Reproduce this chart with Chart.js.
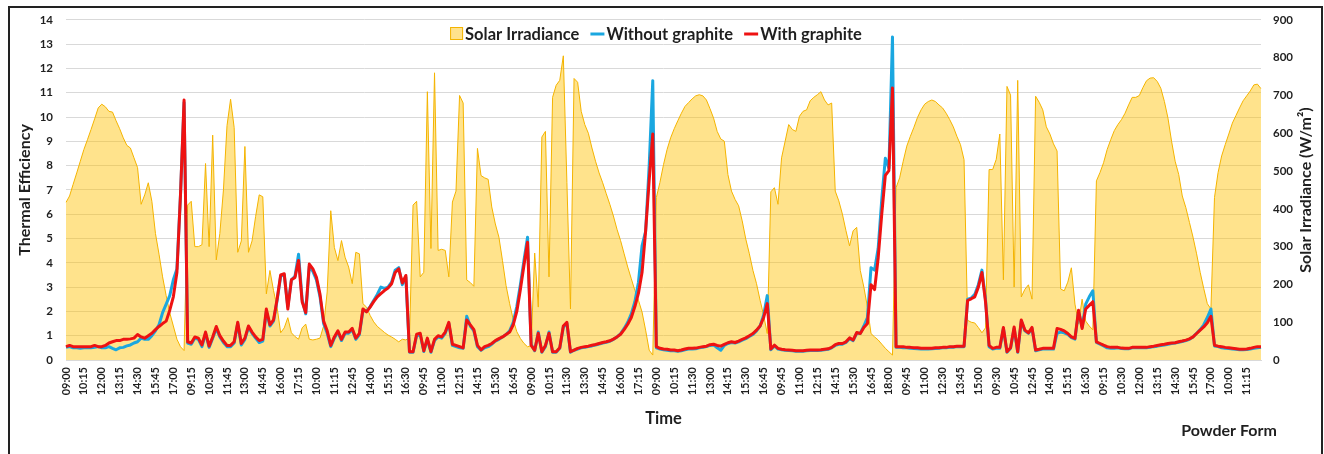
<!DOCTYPE html>
<html>
<head>
<meta charset="utf-8">
<script src="https://cdn.jsdelivr.net/npm/chart.js@4.4.0/dist/chart.umd.min.js"></script>
<style>
  html, body { margin: 0; padding: 0; background: #fff; overflow: hidden; }
  #wrap { position: relative; width: 1324px; height: 454px; }
  #frame { position: absolute; left: 8px; top: 6px; width: 1315px; height: 480px; border: 2px solid #222; box-sizing: border-box; pointer-events: none; }
</style>
</head>
<body>
<div id="wrap">
  <canvas id="chart" width="1324" height="454"></canvas>
  <div id="frame"></div>
</div>
<script>
// tick labels shown on the time axis (one every 5 readings)
const timeTicks = [
  '09:00','10:15','12:00','13:15','14:30','15:45','17:00','09:15','10:30','11:45',
  '13:00','14:45','16:00','17:15','10:00','11:15','12:45','14:00','15:15','16:30',
  '09:45','11:00','12:15','14:15','15:30','16:45','09:00','10:15','11:30','13:30',
  '14:45','16:00','17:15','09:00','10:15','11:30','13:00','14:15','15:30','16:45',
  '09:45','11:00','12:15','14:15','15:30','16:45','18:00','09:45','11:00','12:30',
  '13:45','15:00','09:30','10:45','12:45','14:00','15:15','16:30','09:15','10:30',
  '12:00','13:15','14:30','15:45','17:00','10:00','11:15'
];

// Solar irradiance, W/m2 (right axis)
const solarIrradiance = [
  417, 434, 465, 495, 526, 557, 583, 610, 638, 667,
  677, 670, 658, 656, 633, 612, 588, 568, 561, 535,
  509, 412, 437, 469, 420, 335, 280, 220, 170, 125,
  90, 55, 35, 25, 410, 420, 300, 300, 305, 520,
  300, 595, 265, 335, 450, 620, 690, 615, 285, 315,
  565, 285, 315, 380, 437, 432, 175, 237, 184, 140,
  72, 85, 112, 72, 62, 55, 85, 95, 55, 53,
  55, 58, 90, 180, 395, 298, 263, 316, 272, 246,
  202, 285, 281, 149, 140, 118, 101, 89, 81, 73,
  66, 61, 55, 48, 55, 53, 60, 410, 420, 220,
  232, 710, 295, 760, 290, 293, 290, 220, 418, 447,
  700, 680, 212, 205, 195, 560, 488, 482, 478, 405,
  360, 325, 263, 197, 149, 107, 75, 57, 44, 35,
  38, 283, 140, 590, 605, 220, 695, 727, 740, 805,
  470, 135, 745, 735, 658, 623, 600, 561, 526, 495,
  469, 440, 412, 381, 346, 316, 281, 246, 215, 184,
  158, 127, 79, 26, 13, 430, 470, 517, 557, 588,
  612, 633, 653, 671, 681, 691, 699, 702, 699, 688,
  665, 640, 605, 585, 579, 491, 447, 425, 408, 368,
  320, 281, 237, 202, 158, 118, 70, 445, 456, 412,
  535, 579, 623, 610, 605, 645, 658, 662, 686, 695,
  702, 710, 688, 675, 680, 447, 421, 386, 342, 302,
  342, 351, 237, 193, 140, 70, 61, 53, 42, 31,
  22, 13, 456, 482, 526, 566, 592, 616, 642, 662,
  677, 684, 688, 684, 675, 667, 653, 636, 617, 592,
  570, 530, 105, 100, 98, 86, 72, 85, 504, 504,
  531, 598, 212, 724, 701, 193, 740, 167, 187, 199,
  161, 698, 682, 662, 617, 598, 572, 553, 188, 183,
  206, 244, 148, 96, 161, 103, 90, 80, 474, 496,
  522, 557, 583, 607, 623, 636, 653, 675, 695, 695,
  700, 721, 739, 746, 747, 737, 719, 684, 640, 579,
  526, 491, 434, 403, 364, 325, 281, 232, 189, 149,
  135, 430, 496, 540, 570, 598, 627, 647, 667, 686,
  699, 712, 728, 730, 718
];

// Thermal efficiency without graphite (left axis)
const withoutGraphite = [
  0.52, 0.55, 0.5, 0.5, 0.48, 0.5, 0.5, 0.5, 0.52, 0.55,
  0.5, 0.5, 0.55, 0.48, 0.42, 0.5, 0.52, 0.58, 0.62, 0.7,
  0.75, 0.9, 0.85, 0.85, 1.0, 1.2, 1.45, 1.95, 2.3, 2.65,
  3.3, 3.75, 6.8, 10.6, 0.7, 0.65, 0.9, 0.85, 0.55, 1.1,
  0.52, 0.9, 1.3, 0.95, 0.72, 0.55, 0.55, 0.7, 1.5, 0.62,
  0.85, 1.35, 1.1, 0.9, 0.72, 0.78, 2.0, 1.4, 1.6, 2.45,
  3.45, 3.5, 2.2, 3.3, 3.45, 4.35, 2.5, 1.9, 3.85, 3.65,
  3.3, 2.6, 1.5, 1.1, 0.55, 0.9, 1.15, 0.8, 1.1, 1.1,
  1.25, 0.85, 1.05, 2.05, 2.0, 2.2, 2.45, 2.7, 3.0, 2.95,
  3.0, 3.2, 3.7, 3.8, 3.1, 3.4, 0.32, 0.32, 1.0, 1.05,
  0.35, 0.85, 0.32, 0.8, 0.95, 0.9, 1.1, 1.5, 0.6, 0.55,
  0.5, 0.48, 1.8, 1.4, 1.2, 0.55, 0.4, 0.5, 0.55, 0.65,
  0.78, 0.85, 0.95, 1.05, 1.2, 1.55, 2.2, 3.1, 4.1, 5.05,
  0.65, 0.38, 1.15, 0.32, 0.55, 1.15, 0.32, 0.32, 0.48, 1.35,
  1.5, 0.32, 0.4, 0.45, 0.5, 0.52, 0.55, 0.58, 0.62, 0.66,
  0.7, 0.73, 0.77, 0.85, 0.95, 1.08, 1.3, 1.55, 1.9, 2.4,
  3.2, 4.7, 5.3, 8.0, 11.5, 0.5, 0.45, 0.42, 0.4, 0.38,
  0.38, 0.36, 0.38, 0.42, 0.45, 0.45, 0.46, 0.5, 0.52, 0.55,
  0.6, 0.62, 0.5, 0.4, 0.6, 0.68, 0.72, 0.7, 0.75, 0.82,
  0.88, 0.97, 1.05, 1.2, 1.4, 1.85, 2.65, 0.42, 0.58, 0.45,
  0.42, 0.4, 0.39, 0.38, 0.36, 0.36, 0.36, 0.38, 0.39, 0.39,
  0.39, 0.4, 0.42, 0.44, 0.5, 0.6, 0.65, 0.65, 0.72, 0.88,
  0.8, 1.1, 1.1, 1.4, 1.75, 3.8, 3.7, 4.6, 6.6, 8.3,
  7.9, 13.3, 0.52, 0.52, 0.5, 0.5, 0.48, 0.47, 0.46, 0.45,
  0.45, 0.45, 0.46, 0.47, 0.48, 0.5, 0.5, 0.52, 0.52, 0.55,
  0.55, 0.55, 2.5, 2.55, 2.7, 3.1, 3.7, 2.5, 0.55, 0.45,
  0.48, 0.48, 1.3, 0.32, 0.48, 1.3, 0.32, 1.6, 1.2, 1.1,
  1.3, 0.38, 0.42, 0.45, 0.45, 0.45, 0.45, 1.1, 1.15, 1.12,
  1.05, 0.92, 0.86, 2.0, 1.35, 2.3, 2.6, 2.85, 0.72, 0.65,
  0.58, 0.5, 0.48, 0.48, 0.5, 0.47, 0.46, 0.46, 0.5, 0.5,
  0.5, 0.5, 0.5, 0.52, 0.55, 0.57, 0.6, 0.62, 0.65, 0.68,
  0.7, 0.73, 0.76, 0.8, 0.85, 0.95, 1.1, 1.25, 1.45, 1.75,
  2.1, 0.58, 0.55, 0.5, 0.48, 0.47, 0.45, 0.44, 0.42, 0.42,
  0.43, 0.45, 0.48, 0.5, 0.52
];

// Thermal efficiency with graphite (left axis)
const withGraphite = [
  0.55, 0.6, 0.55, 0.55, 0.55, 0.55, 0.55, 0.55, 0.6, 0.55,
  0.55, 0.6, 0.7, 0.75, 0.8, 0.8, 0.85, 0.85, 0.87, 0.9,
  1.05, 0.95, 0.9, 1.0, 1.1, 1.25, 1.38, 1.5, 1.6, 2.05,
  2.6, 3.6, 6.8, 10.7, 0.75, 0.7, 0.95, 0.9, 0.62, 1.15,
  0.57, 0.95, 1.38, 1.0, 0.78, 0.6, 0.6, 0.75, 1.55, 0.68,
  0.9, 1.4, 1.15, 0.95, 0.8, 0.85, 2.1, 1.45, 1.65, 2.5,
  3.5, 3.55, 2.1, 3.3, 3.4, 4.1, 2.4, 1.95, 3.95, 3.75,
  3.4, 2.7, 1.6, 1.2, 0.6, 0.95, 1.2, 0.85, 1.15, 1.15,
  1.3, 0.9, 1.1, 2.1, 1.98, 2.18, 2.4, 2.6, 2.73, 2.86,
  2.96, 3.14, 3.6, 3.75, 3.17, 3.48, 0.34, 0.34, 1.06, 1.1,
  0.38, 0.9, 0.35, 0.85, 1.0, 0.95, 1.15, 1.55, 0.65, 0.6,
  0.55, 0.5, 1.65, 1.45, 1.25, 0.6, 0.42, 0.55, 0.6, 0.68,
  0.8, 0.88, 0.95, 1.05, 1.15, 1.45, 2.0, 2.9, 3.9, 4.85,
  0.6, 0.4, 1.1, 0.34, 0.6, 1.1, 0.34, 0.34, 0.5, 1.4,
  1.55, 0.34, 0.41, 0.48, 0.52, 0.55, 0.57, 0.61, 0.64, 0.68,
  0.72, 0.75, 0.79, 0.86, 0.95, 1.06, 1.25, 1.47, 1.75, 2.2,
  2.75, 3.6, 5.3, 7.4, 9.3, 0.55, 0.48, 0.45, 0.44, 0.41,
  0.41, 0.38, 0.41, 0.45, 0.48, 0.48, 0.49, 0.52, 0.55, 0.57,
  0.63, 0.65, 0.6, 0.57, 0.64, 0.71, 0.75, 0.72, 0.78, 0.85,
  0.91, 1.0, 1.09, 1.23, 1.4, 1.75, 2.32, 0.45, 0.61, 0.48,
  0.44, 0.42, 0.41, 0.4, 0.38, 0.38, 0.38, 0.4, 0.41, 0.41,
  0.41, 0.42, 0.44, 0.46, 0.52, 0.63, 0.68, 0.68, 0.75, 0.91,
  0.82, 1.13, 1.09, 1.34, 1.5, 3.1, 2.9, 4.2, 6.0, 7.6,
  7.8, 11.2, 0.55, 0.55, 0.55, 0.52, 0.52, 0.5, 0.5, 0.48,
  0.48, 0.48, 0.48, 0.5, 0.5, 0.52, 0.52, 0.55, 0.55, 0.57,
  0.57, 0.57, 2.45, 2.52, 2.6, 3.0, 3.6, 2.4, 0.6, 0.48,
  0.52, 0.52, 1.34, 0.34, 0.5, 1.36, 0.34, 1.65, 1.23, 1.12,
  1.34, 0.41, 0.44, 0.48, 0.48, 0.48, 0.48, 1.3, 1.26, 1.2,
  1.09, 0.95, 0.89, 2.05, 1.3, 2.1, 2.25, 2.4, 0.75, 0.68,
  0.61, 0.55, 0.52, 0.52, 0.52, 0.49, 0.48, 0.48, 0.52, 0.52,
  0.52, 0.52, 0.52, 0.55, 0.57, 0.6, 0.63, 0.65, 0.68, 0.7,
  0.71, 0.75, 0.78, 0.82, 0.87, 0.95, 1.09, 1.23, 1.36, 1.53,
  1.8, 0.61, 0.57, 0.55, 0.52, 0.5, 0.48, 0.46, 0.44, 0.44,
  0.45, 0.48, 0.52, 0.55, 0.55
];

const FONT = 'Lato, "Noto Sans", sans-serif';
const TEXT = '#1f1f1f';

// every 5th reading carries a visible time label
const labels = solarIrradiance.map((_, i) => (i % 5 === 0 ? timeTicks[i / 5] : ''));

// legend, right axis title and the "Powder Form" note are drawn on top
const overlayText = {
  id: 'overlayText',
  afterDraw(chart) {
    const c = chart.ctx;
    const ds = chart.data.datasets;
    c.save();
    c.font = 'bold 16.5px ' + FONT;
    c.textBaseline = 'middle';

    // legend inside the plot, centred near the top
    const y = 34;
    const items = ds.map(d => ({ d, w: c.measureText(d.label).width }));
    const markW = [13, 14, 14];
    let total = 0;
    items.forEach((it, i) => { total += markW[i] + 2 + it.w; });
    total += 11 * (items.length - 1);
    let x = 656 - total / 2;
    items.forEach((it, i) => {
      if (i === 0) {
        c.fillStyle = 'rgb(255,226,140)';
        c.fillRect(x, y - 7, 13, 13);
        c.strokeStyle = it.d.borderColor;
        c.lineWidth = 1;
        c.strokeRect(x + 0.5, y - 6.5, 12, 12);
      } else {
        c.strokeStyle = it.d.borderColor;
        c.lineWidth = 3;
        c.beginPath();
        c.moveTo(x, y);
        c.lineTo(x + markW[i], y);
        c.stroke();
      }
      x += markW[i] + 2;
      c.fillStyle = TEXT;
      c.textAlign = 'left';
      c.fillText(it.d.label, x, y + 1);
      x += it.w + 11;
    });

    // right axis title, reading bottom to top like the left one
    c.save();
    c.translate(1306, 190);
    c.rotate(-Math.PI / 2);
    c.textAlign = 'center';
    c.font = 'bold 16px ' + FONT;
    c.fillStyle = TEXT;
    c.fillText('Solar Irradiance (W/m²)', 0, 0);
    c.restore();

    c.font = 'bold 16px ' + FONT;
    c.textAlign = 'center';
    c.fillStyle = TEXT;
    c.fillText('Powder Form', 1229, 431);
    c.restore();
  }
};

const tickFont = { family: FONT, size: 11.5, weight: 'bold' };

new Chart(document.getElementById('chart'), {
  type: 'line',
  data: {
    labels,
    datasets: [
      {
        label: 'Solar Irradiance',
        data: solarIrradiance,
        yAxisID: 'y1',
        borderColor: '#F4B400',
        borderWidth: 1,
        backgroundColor: 'rgba(255,192,0,0.45)',
        fill: 'origin',
        pointRadius: 0,
        tension: 0,
        order: 3,
      },
      {
        label: 'Without graphite',
        data: withoutGraphite,
        yAxisID: 'y',
        borderColor: '#1AA7E0',
        borderWidth: 3,
        borderJoinStyle: 'round',
        fill: false,
        pointRadius: 0,
        tension: 0,
        order: 2,
      },
      {
        label: 'With graphite',
        data: withGraphite,
        yAxisID: 'y',
        borderColor: '#EE1212',
        borderWidth: 3,
        borderJoinStyle: 'round',
        fill: false,
        pointRadius: 0,
        tension: 0,
        order: 1,
      },
    ],
  },
  options: {
    responsive: false,
    animation: false,
    devicePixelRatio: 1,
    layout: { padding: { left: 8, right: 0, top: 18, bottom: 0 } },
    plugins: { legend: { display: false }, tooltip: { enabled: false } },
    scales: {
      x: {
        grid: { display: false, drawTicks: false },
        border: { display: true, color: '#d9d9d9' },
        ticks: {
          autoSkip: false, minRotation: 90, maxRotation: 90, padding: 7,
          color: TEXT, font: { family: FONT, size: 11, weight: 'bold' },
        },
        title: {
          display: true, text: 'Time', color: TEXT,
          font: { family: FONT, size: 16.5, weight: 'bold' },
          padding: { top: 0, bottom: 25 },
        },
        afterFit: s => { s.height = 94; },
      },
      y: {
        position: 'left', min: 0, max: 14,
        ticks: { stepSize: 1, padding: 13, color: TEXT, font: tickFont },
        grid: { color: '#d9d9d9', drawTicks: false },
        border: { display: false },
        title: {
          display: true, text: 'Thermal Efficiency', color: TEXT,
          font: { family: FONT, size: 16, weight: 'bold' },
          padding: { top: 7, bottom: 0 },
        },
        afterFit: s => { s.width = 58; },
      },
      y1: {
        position: 'right', min: 0, max: 900,
        ticks: { stepSize: 100, padding: 12, color: TEXT, font: tickFont },
        grid: { display: false, drawTicks: false },
        border: { display: false },
        afterFit: s => { s.width = 63; },
      },
    },
  },
  plugins: [overlayText],
});
</script>
</body>
</html>
